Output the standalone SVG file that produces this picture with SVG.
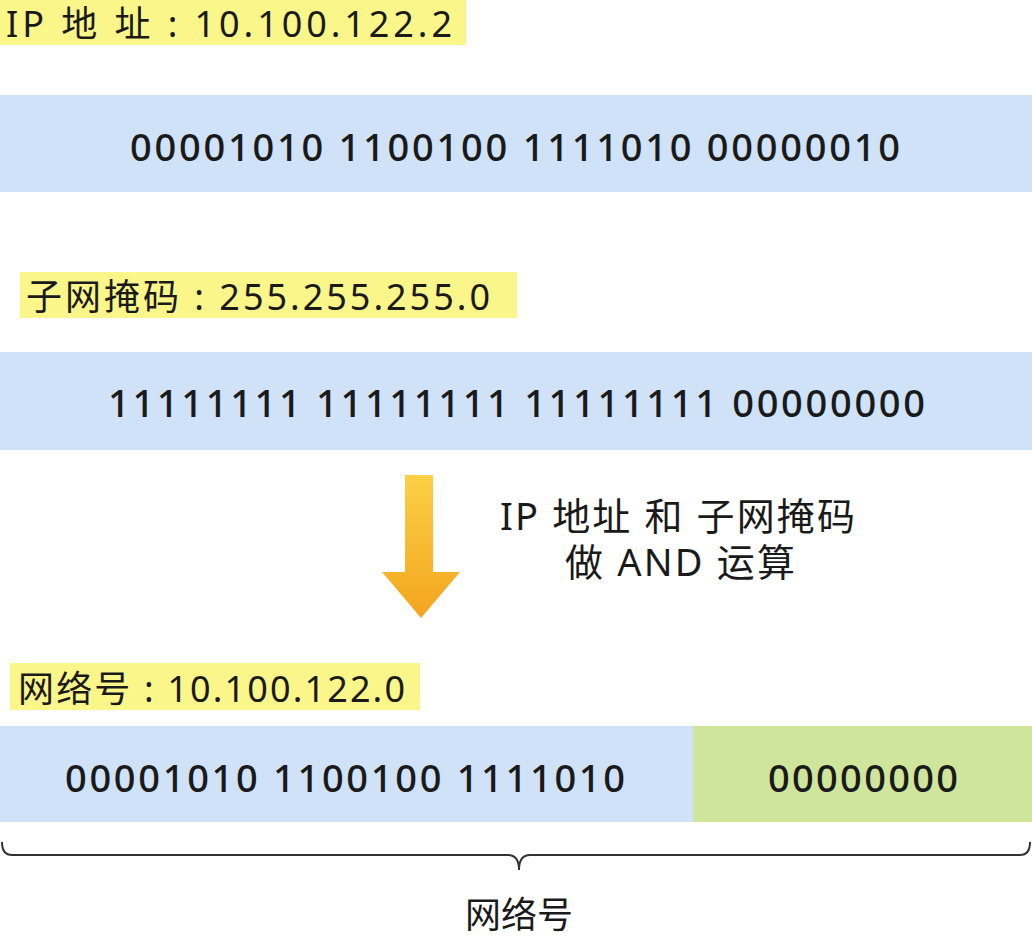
<svg xmlns="http://www.w3.org/2000/svg" width="1032" height="949" viewBox="0 0 1032 949">
<style>
.lbl{fill:#fbf68a}
.bar{fill:#cfe2f7}
.t{font-family:"Noto Sans","Noto Sans CJK SC",sans-serif;fill:#1a1a1a}
.big{font-size:38px;font-weight:500}
.mid{font-size:36px}
.op{font-size:38px}
</style>
<defs><linearGradient id="g" x1="0" y1="0" x2="0" y2="1"><stop offset="0" stop-color="#fbd046"/><stop offset="1" stop-color="#f3a51e"/></linearGradient></defs>
<rect width="1032" height="949" fill="#fff"/>
<g id="ip-label"><rect class="lbl" x="0" y="0" width="466" height="45"/><text class="t mid" x="6" y="37" textLength="446" lengthAdjust="spacing">IP  地 址 : 10.100.122.2</text></g>
<g id="ip-bar"><rect class="bar" x="0" y="95" width="1032" height="97"/><text class="t big" x="130" y="161" textLength="770" lengthAdjust="spacing">00001010 1100100 1111010 00000010</text></g>
<g id="mask-label"><rect class="lbl" x="20" y="272" width="497" height="46"/><text class="t mid" x="26" y="310" textLength="464" lengthAdjust="spacing">子网掩码 : 255.255.255.0</text></g>
<g id="mask-bar"><rect class="bar" x="0" y="352" width="1032" height="98"/><text class="t big" x="108" y="417" textLength="817" lengthAdjust="spacing">11111111 11111111 11111111 00000000</text></g>
<g id="connectors"><path d="M405 475H433V572H460L421 618L382 572H405Z" fill="url(#g)"/>
<path d="M2 842Q2 855 12 855H508Q519 855 519 870Q519 855 530 855H1020Q1030 855 1030 842" fill="none" stroke="#333" stroke-width="2"/></g>
<g id="op-text"><text class="t op"><tspan x="500" y="530" textLength="355" lengthAdjust="spacing">IP 地址 和 子网掩码</tspan><tspan x="565" y="576" textLength="230" lengthAdjust="spacing">做 AND 运算</tspan></text></g>
<g id="net-label"><rect class="lbl" x="10" y="663" width="410" height="47"/><text class="t mid" x="18" y="702" textLength="387" lengthAdjust="spacing">网络号 : 10.100.122.0</text></g>
<g id="net-bar"><rect class="bar" x="0" y="726" width="693" height="96"/><rect x="693" y="726" width="339" height="96" fill="#cfe59b"/>
<text class="t big" x="65" y="792" textLength="560" lengthAdjust="spacing">00001010 1100100 1111010</text><text class="t big" x="768" y="792" textLength="190" lengthAdjust="spacing">00000000</text></g>
<g id="brace-label"><text class="t mid" x="519" y="928" text-anchor="middle">网络号</text></g>
</svg>
